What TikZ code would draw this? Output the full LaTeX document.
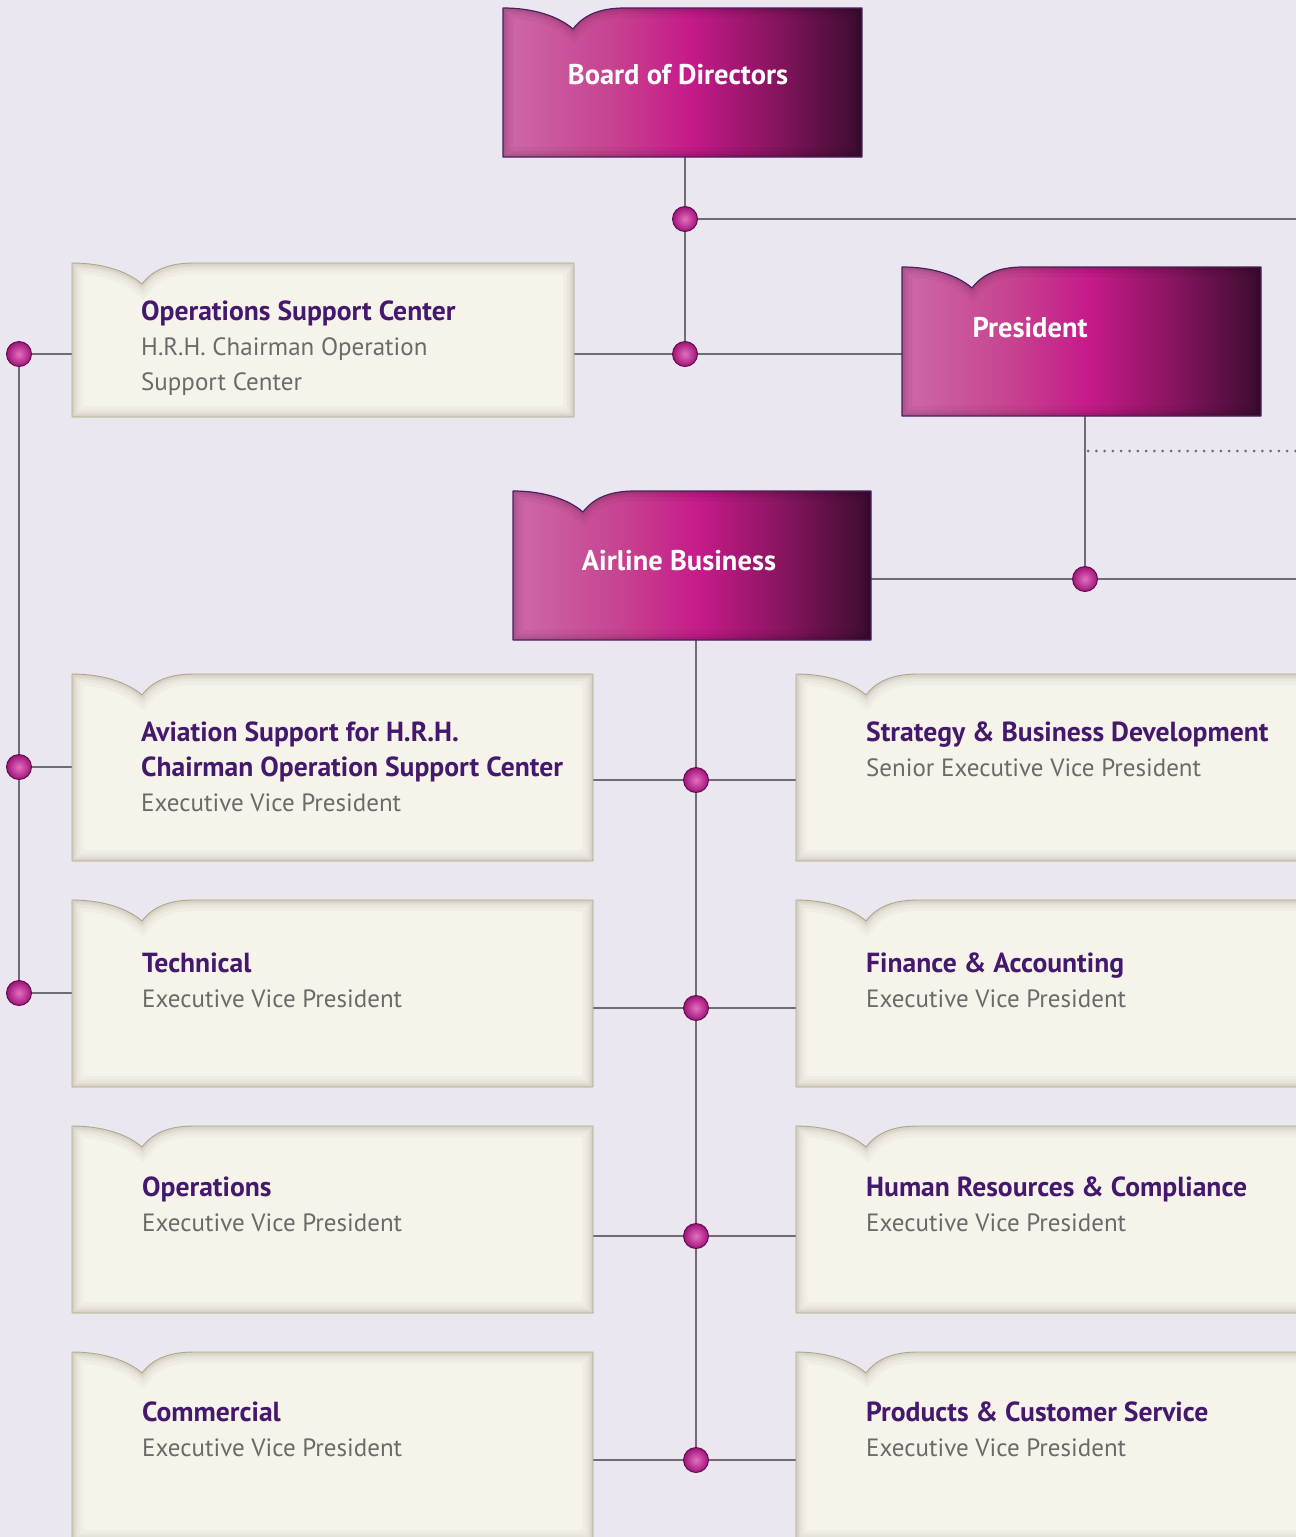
\documentclass[tikz,border=0pt]{standalone}
\usepackage{fontspec}
\setmainfont{PT Sans}
\usetikzlibrary{calc}

\definecolor{bg}{HTML}{EAE7F1}
\definecolor{cream}{HTML}{F5F3EA}
\definecolor{creamedge}{HTML}{AFA68B}
\definecolor{creamshadow}{HTML}{948C76}
\definecolor{magL}{HTML}{CC64A6}
\definecolor{magQ}{HTML}{C7438F}
\definecolor{magM}{HTML}{C61A8A}
\definecolor{magD}{HTML}{8C1562}
\definecolor{magR}{HTML}{3C0C30}
\definecolor{magedge}{HTML}{4A1F5E}
\definecolor{wirec}{HTML}{6F6C78}
\definecolor{headc}{HTML}{44186C}
\definecolor{subc}{HTML}{6A6A6A}
\definecolor{dotin}{HTML}{E470BF}
\definecolor{dotout}{HTML}{A0127A}
\definecolor{dotrim}{HTML}{5C0A45}

\pgfdeclarehorizontalshading{magshade}{100bp}{color(0bp)=(magL); color(27bp)=(magL); color(40bp)=(magQ); color(51bp)=(magM); color(62bp)=(magD); color(75bp)=(magR); color(100bp)=(magR)}

\pgfdeclarelayer{bglayer}
\pgfdeclarelayer{wires}
\pgfsetlayers{bglayer,wires,main}

% outline of a card: straight sides, notched tab at the top left
\newcommand\cardpath[4]{(#1,#4) -- (#1,#2) .. controls (#1+30,#2) and (#1+55,#2+8) .. (#1+70,#2+21) .. controls (#1+80,#2+8) and (#1+95,#2) .. (#1+122,#2) -- (#3,#2) -- (#3,#4) -- cycle}

% cream card: name, left, top, right, bottom
\newcommand\creamcard[5]{%
  \node[cardframe, minimum width={#4-#2}, minimum height={#5-#3}] (#1) at ({(#2+#4)/2},{(#3+#5)/2}) {};
  \fill[cream] \cardpath{#2}{#3}{#4}{#5};
  \begin{scope}
    \clip \cardpath{#2}{#3}{#4}{#5};
    \foreach \w/\o in {22/0.05,15/0.07,9/0.09,5/0.12}
      \draw[creamshadow, line width=\w pt, opacity=\o] \cardpath{#2}{#3}{#4}{#5};
  \end{scope}
  \draw[creamedge, line width=0.9pt, line join=round] \cardpath{#2}{#3}{#4}{#5};
}

% magenta card: name, left, top, right, bottom
\newcommand\magcard[5]{%
  \node[cardframe, minimum width={#4-#2}, minimum height={#5-#3}] (#1) at ({(#2+#4)/2},{(#3+#5)/2}) {};
  \shade[shading=magshade] \cardpath{#2}{#3}{#4}{#5};
  \begin{scope}
    \clip \cardpath{#2}{#3}{#4}{#5};
    \foreach \w/\o in {20/0.03,12/0.05,6/0.07}
      \draw[black, line width=\w pt, opacity=\o] \cardpath{#2}{#3}{#4}{#5};
  \end{scope}
  \draw[magedge, line width=1.2pt, line join=round] \cardpath{#2}{#3}{#4}{#5};
}

\tikzset{
  cardframe/.style={rectangle, inner sep=0pt, outer sep=0pt},
  hd/.style={anchor=base west, inner sep=0pt, font=\bfseries\fontsize{27.6}{32}\selectfont, text=headc},
  sb/.style={anchor=base west, inner sep=0pt, font=\fontsize{25}{30}\selectfont, text=subc},
  ttl/.style={anchor=base, inner sep=0pt, font=\bfseries\fontsize{28.5}{32}\selectfont, text=white},
  junction/.style={circle, minimum size=25pt, inner sep=0pt, shading=radial, inner color=dotin, outer color=dotout, draw=dotrim, line width=0.9pt},
  wire/.style={draw=wirec, line width=1.5pt},
  dotwire/.style={draw=wirec, line width=3pt, line cap=round, dash pattern=on 0pt off 8.3pt}
}

\begin{document}
\begin{tikzpicture}[x=1pt, y=-1pt]
\useasboundingbox (0,0) rectangle (1296,1537);
\begin{pgfonlayer}{bglayer}
  \fill[bg] (0,0) rectangle (1296,1537);
\end{pgfonlayer}
\clip (0,0) rectangle (1296,1537);

% top of the chart
\magcard{bod}{503}{8}{862}{157}
\node[ttl] (bodt) at (678,84) {Board of Directors};

\magcard{pres}{902}{267}{1261}{416}
\node[ttl] (prest) at (1030,337) {President};

\creamcard{osc}{72}{263}{574}{417}
\node[hd] (osct1) at (141,320) {Operations Support Center};
\node[sb] (osct2) at (141,355) {H.R.H. Chairman Operation};
\node[sb] (osct3) at (141,390) {Support Center};

\magcard{ab}{513}{491}{871}{640}
\node[ttl] (abt) at (679,570) {Airline Business};

% left column
\creamcard{avi}{72}{674}{593}{861}
\node[hd] (avit1) at (141,741) {Aviation Support for H.R.H.};
\node[hd] (avit2) at (141,776) {Chairman Operation Support Center};
\node[sb] (avit3) at (141,811) {Executive Vice President};

\creamcard{tec}{72}{900}{593}{1087}
\node[hd] (tect1) at (142,972) {Technical};
\node[sb] (tect2) at (142,1007) {Executive Vice President};

\creamcard{ops}{72}{1126}{593}{1313}
\node[hd] (opst1) at (142,1196) {Operations};
\node[sb] (opst2) at (142,1231) {Executive Vice President};

\creamcard{com}{72}{1352}{593}{1541}
\node[hd] (comt1) at (142,1421) {Commercial};
\node[sb] (comt2) at (142,1456) {Executive Vice President};

% right column
\creamcard{sbd}{796}{674}{1320}{861}
\node[hd] (sbdt1) at (866,741) {Strategy \& Business Development};
\node[sb] (sbdt2) at (866,776) {Senior Executive Vice President};

\creamcard{fin}{796}{900}{1320}{1087}
\node[hd] (fint1) at (866,972) {Finance \& Accounting};
\node[sb] (fint2) at (866,1007) {Executive Vice President};

\creamcard{hrc}{796}{1126}{1320}{1313}
\node[hd] (hrct1) at (866,1196) {Human Resources \& Compliance};
\node[sb] (hrct2) at (866,1231) {Executive Vice President};

\creamcard{pcs}{796}{1352}{1320}{1541}
\node[hd] (pcst1) at (866,1421) {Products \& Customer Service};
\node[sb] (pcst2) at (866,1456) {Executive Vice President};

% junctions
\node[junction] (jb) at (685,219) {};
\node[junction] (jo) at (685,354) {};
\node[junction] (jl1) at (19,354) {};
\node[junction] (jl2) at (19,767) {};
\node[junction] (jl3) at (19,993) {};
\node[junction] (jp) at (1085,579) {};
\node[junction] (ja1) at (696,780) {};
\node[junction] (ja2) at (696,1008) {};
\node[junction] (ja3) at (696,1236) {};
\node[junction] (ja4) at (696,1460) {};

\coordinate (outR1) at (1296,219);
\coordinate (outR2) at (1296,579);
\coordinate (dotA) at (1088,451);
\coordinate (dotB) at (1296,451);

\begin{pgfonlayer}{wires}
  \draw[wire] (bod.south -| jb) -- (jo.center);
  \draw[wire] (jb.center) -- (outR1);
  \draw[wire] (osc.east |- jo) -- (pres.west |- jo);
  \draw[wire] (jl1.center) -- (osc.west |- jl1);
  \draw[wire] (jl1.center) -- (jl3.center);
  \draw[wire] (jl2.center) -- (avi.west |- jl2);
  \draw[wire] (jl3.center) -- (tec.west |- jl3);
  \draw[wire] (pres.south -| jp) -- (jp.center);
  \draw[dotwire] (dotA) -- (dotB);
  \draw[wire] (ab.east |- jp) -- (outR2);
  \draw[wire] (ab.south -| ja1) -- (ja4.center);
  \draw[wire] (avi.east |- ja1) -- (sbd.west |- ja1);
  \draw[wire] (tec.east |- ja2) -- (fin.west |- ja2);
  \draw[wire] (ops.east |- ja3) -- (hrc.west |- ja3);
  \draw[wire] (com.east |- ja4) -- (pcs.west |- ja4);
\end{pgfonlayer}
\end{tikzpicture}
\end{document}
